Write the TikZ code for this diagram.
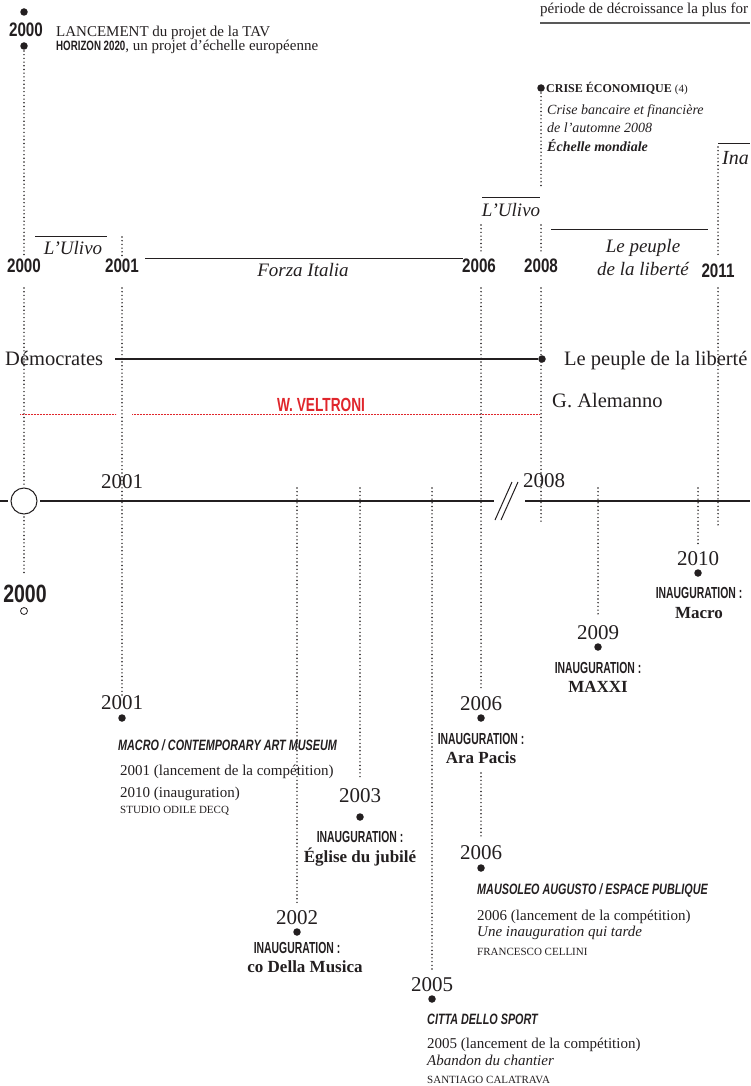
\documentclass[tikz,border=0pt]{standalone}
\usepackage{fontspec}
\setmainfont{Liberation Serif}
\newfontfamily\condf{Liberation Sans}[FakeStretch=0.72]
\newfontfamily\inaugf{Liberation Sans}[FakeStretch=0.65]
\newfontfamily\yearf{Liberation Sans}[FakeStretch=0.78]
\definecolor{ink}{HTML}{231F20}
\definecolor{vred}{HTML}{E0262C}
\tikzset{
 dotv/.style={draw=ink, line width=1.6pt, line cap=round, dash pattern=on 0pt off 3.7pt},
 solidl/.style={draw=ink, line width=1.1pt},
 overl/.style={draw=ink, line width=0.9pt},
 redl/.style={draw=vred, line width=0.8pt, dash pattern=on 0.8pt off 0.7pt},
 bdot/.style={circle, fill=ink, inner sep=0pt, minimum size=7.5pt},
 yrb/.style={font=\yearf\bfseries\fontsize{19.5}{20}\selectfont, anchor=base},
 yrs/.style={font=\fontsize{21}{22}\selectfont, anchor=base},
 inaug/.style={font=\inaugf\bfseries\fontsize{16}{16}\selectfont, anchor=base},
 bname/.style={font=\bfseries\fontsize{17}{17}\selectfont, anchor=base},
 ptitle/.style={font=\condf\bfseries\itshape\fontsize{15}{15}\selectfont, anchor=base west},
 ptext/.style={font=\fontsize{15}{15}\selectfont, anchor=base west},
 pitext/.style={font=\itshape\fontsize{15}{15}\selectfont, anchor=base west},
 pcaps/.style={font=\fontsize{11}{11}\selectfont, anchor=base west},
 party/.style={font=\itshape\fontsize{19}{19}\selectfont, anchor=base},
 bigt/.style={font=\fontsize{20.5}{21}\selectfont, anchor=base west},
 topt/.style={font=\fontsize{15}{15}\selectfont, anchor=base west},
}
\begin{document}
\begin{tikzpicture}[x=1pt, y=-1pt, every node/.style={inner sep=0pt, text=ink}]
\clip (0,0) rectangle (750,1086);
\fill[white] (0,0) rectangle (750,1086);

% ---------- top left : TAV ----------
\node[bdot] (d0a) at (24,12) {};
\node[yrb] (y0top) at (26,37) {2000};
\node[topt] (lanc) at (56,37) {LANCEMENT du projet de la TAV};
\node[bdot] (d0b) at (24,46) {};
\node[topt] (horiz) at (56,51) {{\condf\bfseries\fontsize{13.5}{14}\selectfont HORIZON 2020}, un projet d’échelle européenne};

% ---------- top right ----------
\node[topt] (perio) at (540,14) {période de décroissance la plus for};
\coordinate (perL) at (540,23); \coordinate (perR) at (750,23);
\draw[line width=1.5pt, draw=black!65] (perL) -- (perR);

% ---------- crise ----------
\node[bdot] (dcrise) at (541,88) {};
\node[anchor=base west, font=\bfseries\fontsize{12}{13}\selectfont] (crise) at (546,93) {CRISE ÉCONOMIQUE {\mdseries\fontsize{11}{11}\selectfont (4)}};
\node[anchor=base west, font=\itshape\fontsize{14}{14}\selectfont] (crise1) at (547,115) {Crise bancaire et financière};
\node[anchor=base west, font=\itshape\fontsize{14}{14}\selectfont] (crise2) at (547,133) {de l’automne 2008};
\node[anchor=base west, font=\bfseries\itshape\fontsize{14}{14}\selectfont] (crise3) at (547,152) {Échelle mondiale};

% ---------- parties row ----------
\coordinate (ul1a) at (35,236); \coordinate (ul1b) at (107,236);
\draw[overl] (ul1a) -- (ul1b);
\node[party] (ulivo1) at (73,254) {L’Ulivo};
\coordinate (fia) at (145,258); \coordinate (fib) at (463,258);
\draw[overl] (fia) -- (fib);
\node[party] (forza) at (303,276) {Forza Italia};
\coordinate (ul2a) at (482,197); \coordinate (ul2b) at (540,197);
\draw[overl] (ul2a) -- (ul2b);
\node[party] (ulivo2) at (511,216) {L’Ulivo};
\coordinate (pla) at (551,229); \coordinate (plb) at (708,229);
\draw[overl] (pla) -- (plb);
\node[party] (pl1) at (643,252) {Le peuple};
\node[party] (pl2) at (643,275) {de la liberté};
\coordinate (ina1) at (718,143); \coordinate (ina2) at (750,143);
\draw[overl] (ina1) -- (ina2);
\node[party, anchor=base west, font=\itshape\fontsize{20}{20}\selectfont] (ina) at (722,165) {Ina};

\node[yrb] (r2000) at (24,272) {2000};
\node[yrb] (r2001) at (122,272) {2001};
\node[yrb] (r2006) at (479,272) {2006};
\node[yrb] (r2008) at (541,272) {2008};
\node[yrb] (r2011) at (718,277) {2011};

% ---------- middle : mayors ----------
\node[bigt] (demo) at (5,365) {Démocrates};
\node[bdot] (dpdl) at (542,359) {};
\coordinate (demoL) at (115,359);
\draw[solidl] (demoL) -- (dpdl);
\node[bigt] (pdl) at (564,365) {Le peuple de la liberté};
\node[bigt] (alem) at (552,407) {G. Alemanno};
\node[font=\condf\bfseries\fontsize{19}{19}\selectfont, text=vred, anchor=base] (velt) at (321,411) {W. VELTRONI};
\coordinate (rl1) at (20,414); \coordinate (rl2) at (116,414);
\coordinate (rl3) at (132,414); \coordinate (rl4) at (540,414);
\draw[redl] (rl1) -- (rl2);
\draw[redl] (rl3) -- (rl4);

% ---------- main timeline ----------
\node[circle, draw=ink, line width=1pt, minimum size=26pt, inner sep=0pt] (c2000) at (24,501) {};
\coordinate (tl0) at (0,501); \coordinate (tl1) at (8,501);
\coordinate (tl2) at (40,501); \coordinate (tl3) at (494,501);
\coordinate (tl4) at (525,501); \coordinate (tl5) at (750,501);
\draw[solidl] (tl0) -- (tl1);
\draw[solidl] (tl2) -- (tl3);
\draw[solidl] (tl4) -- (tl5);
\coordinate (br1a) at (495,520); \coordinate (br1b) at (512,482);
\coordinate (br2a) at (501,520); \coordinate (br2b) at (518,482);
\draw[draw=ink, line width=1pt] (br1a) -- (br1b);
\draw[draw=ink, line width=1pt] (br2a) -- (br2b);
\node[yrs] (t2001) at (122,488) {2001};
\node[yrs] (t2008) at (544,487) {2008};

\node[font=\yearf\bfseries\fontsize{25}{25}\selectfont, anchor=base] (y2000b) at (25,602) {2000};
\node[circle, draw=ink, line width=0.8pt, minimum size=7pt, inner sep=0pt] (o2000) at (24,611) {};

% ---------- dotted verticals ----------
\coordinate (v24a) at (24,51);  \coordinate (v24b) at (24,257);
\coordinate (v24c) at (24,288); \coordinate (v24e) at (24,517); \coordinate (v24f) at (24,575);
\draw[dotv] (v24a) -- (v24b);
\draw[dotv] (v24c) -- (c2000.north);
\draw[dotv] (v24e) -- (v24f);

\coordinate (v122a) at (122,237); \coordinate (v122b) at (122,257);
\coordinate (v122c) at (122,288); \coordinate (v122d) at (122,696);
\draw[dotv] (v122a) -- (v122b);
\draw[dotv] (v122c) -- (v122d);

\coordinate (v481a) at (481,225); \coordinate (v481b) at (481,253);
\coordinate (v481c) at (481,288); \coordinate (v481d) at (481,690);
\coordinate (v481e) at (481,773); \coordinate (v481f) at (481,837);
\draw[dotv] (v481a) -- (v481b);
\draw[dotv] (v481c) -- (v481d);
\draw[dotv] (v481e) -- (v481f);

\coordinate (v541a) at (541,93);  \coordinate (v541b) at (541,188);
\coordinate (v541c) at (541,225); \coordinate (v541d) at (541,253);
\coordinate (v541e) at (541,288); \coordinate (v541f) at (541,522);
\draw[dotv] (v541a) -- (v541b);
\draw[dotv] (v541c) -- (v541d);
\draw[dotv] (v541e) -- (v541f);

\coordinate (v718a) at (718,147); \coordinate (v718b) at (718,255);
\coordinate (v718c) at (718,288); \coordinate (v718d) at (718,525);
\draw[dotv] (v718a) -- (v718b);
\draw[dotv] (v718c) -- (v718d);

\coordinate (v297a) at (297,488); \coordinate (v297b) at (297,903);
\coordinate (v360a) at (360,488); \coordinate (v360b) at (360,780);
\coordinate (v432a) at (432,488); \coordinate (v432b) at (432,970);
\coordinate (v598a) at (598,488); \coordinate (v598b) at (598,615);
\coordinate (v698a) at (698,488); \coordinate (v698b) at (698,547);
\draw[dotv] (v297a) -- (v297b);
\draw[dotv] (v360a) -- (v360b);
\draw[dotv] (v432a) -- (v432b);
\draw[dotv] (v598a) -- (v598b);
\draw[dotv] (v698a) -- (v698b);

% ---------- projects ----------
% 2001 MACRO
\node[yrs] (p2001y) at (122,709) {2001};
\node[bdot] (p2001d) at (122,718) {};
\node[ptitle] (p2001t) at (118,750) {MACRO / CONTEMPORARY ART MUSEUM};
\node[ptext] (p2001a) at (120,775) {2001 (lancement de la compétition)};
\node[ptext] (p2001b) at (120,797) {2010 (inauguration)};
\node[pcaps] (p2001c) at (120,813) {STUDIO ODILE DECQ};

% 2003
\node[yrs] (p2003y) at (360,802) {2003};
\node[bdot] (p2003d) at (360,817) {};
\node[inaug] (p2003i) at (360,842) {INAUGURATION :};
\node[bname] (p2003n) at (360,862) {Église du jubilé};

% 2002
\node[yrs] (p2002y) at (297,924) {2002};
\node[bdot] (p2002d) at (297,932) {};
\node[inaug] (p2002i) at (297,953) {INAUGURATION :};
\node[bname] (p2002n) at (305,972) {co Della Musica};

% 2005
\node[yrs] (p2005y) at (432,991) {2005};
\node[bdot] (p2005d) at (432,999) {};
\node[ptitle] (p2005t) at (427,1024) {CITTA DELLO SPORT};
\node[ptext] (p2005a) at (427,1048) {2005 (lancement de la compétition)};
\node[pitext] (p2005b) at (427,1065) {Abandon du chantier};
\node[pcaps] (p2005c) at (427,1083) {SANTIAGO CALATRAVA};

% 2006 Ara Pacis
\node[yrs] (p2006y) at (481,710) {2006};
\node[bdot] (p2006d) at (481,718) {};
\node[inaug] (p2006i) at (481,744) {INAUGURATION :};
\node[bname] (p2006n) at (481,763) {Ara Pacis};

% 2006 Mausoleo
\node[yrs] (q2006y) at (481,859) {2006};
\node[bdot] (q2006d) at (481,868) {};
\node[ptitle] (q2006t) at (477,894) {MAUSOLEO AUGUSTO / ESPACE PUBLIQUE};
\node[ptext] (q2006a) at (477,920) {2006 (lancement de la compétition)};
\node[pitext] (q2006b) at (477,936) {Une inauguration qui tarde};
\node[pcaps] (q2006c) at (477,955) {FRANCESCO CELLINI};

% 2009 MAXXI
\node[yrs] (p2009y) at (598,639) {2009};
\node[bdot] (p2009d) at (598,647) {};
\node[inaug] (p2009i) at (598,673) {INAUGURATION :};
\node[bname] (p2009n) at (598,692) {MAXXI};

% 2010 Macro
\node[yrs] (p2010y) at (698,565) {2010};
\node[bdot] (p2010d) at (698,573) {};
\node[inaug] (p2010i) at (699,598) {INAUGURATION :};
\node[bname] (p2010n) at (699,618) {Macro};
\end{tikzpicture}
\end{document}
